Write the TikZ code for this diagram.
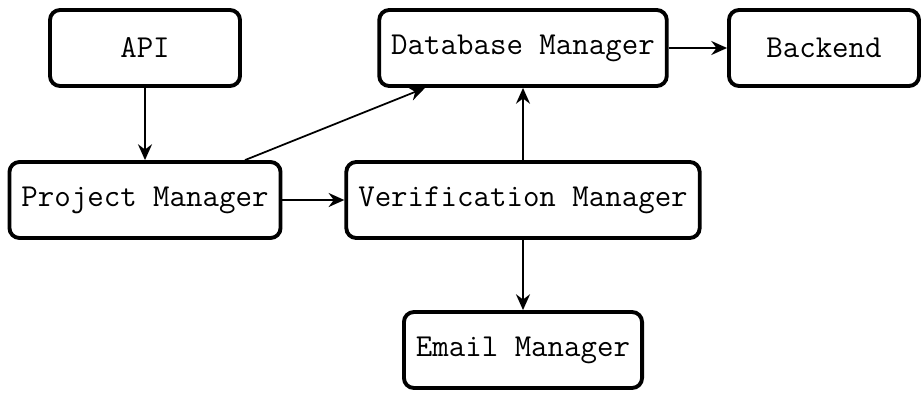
\documentclass[tikz,border=0pt]{standalone}
\usetikzlibrary{arrows.meta}
\tikzset{
  module/.style={draw, rounded corners=0.2cm, line width=2.2pt, minimum width=3.8cm,
    minimum height=1.52cm, inner xsep=0.24cm, font=\ttfamily\fontsize{18.2}{22}\selectfont},
  flow/.style={line width=1pt, -{Stealth[length=9pt, width=8pt, inset=3pt]}}
}
\begin{document}
\begin{tikzpicture}
\useasboundingbox (0,0) rectangle (18.48,7.84);
\node[module] (api) at (2.90,6.88){API};
\node[module] (dbm) at (10.46,6.88){Database Manager};
\node[module] (back) at (16.48,6.88){Backend};
\node[module] (pm) at (2.90,3.84){Project Manager};
\node[module] (vm) at (10.46,3.84){Verification Manager};
\node[module] (em) at (10.46,0.84){Email Manager};
\draw[flow](api) -- (pm);
\draw[flow](pm) -- (vm);
\draw[flow]([xshift=2cm]pm.north) -- ([xshift=-1.96cm]dbm.south);
\draw[flow](vm) -- (dbm);
\draw[flow](vm) -- (em);
\draw[flow](dbm) -- (back);
\end{tikzpicture}
\end{document}
